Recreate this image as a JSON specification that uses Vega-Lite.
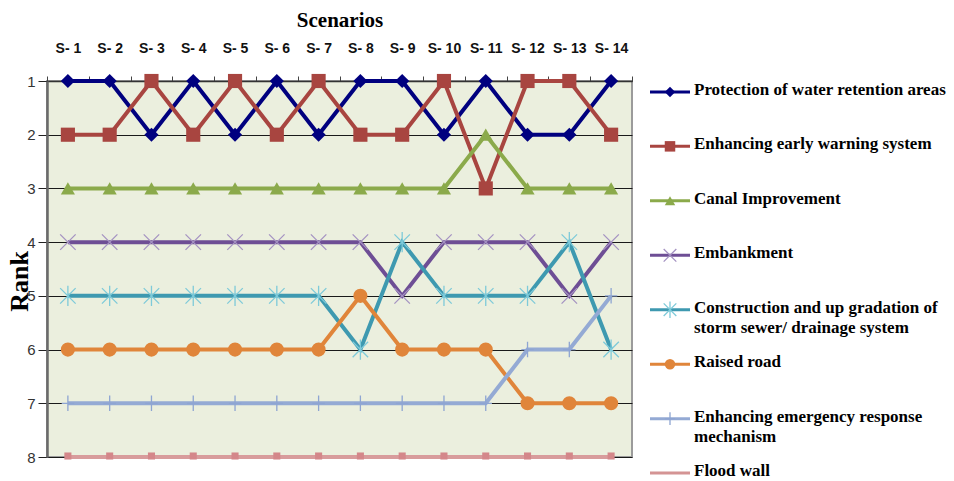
{
  "$schema": "https://vega.github.io/schema/vega-lite/v6.json",
  "background": "white",
  "padding": {"left": 5, "top": 8, "right": 0, "bottom": 0},
  "spacing": 14,
  "config": {"view": {"stroke": null}},
  "datasets": {
    "ranks": [
      {"scenario": "S- 1", "measure": "Protection of water retention areas", "rank": 1},
      {"scenario": "S- 2", "measure": "Protection of water retention areas", "rank": 1},
      {"scenario": "S- 3", "measure": "Protection of water retention areas", "rank": 2},
      {"scenario": "S- 4", "measure": "Protection of water retention areas", "rank": 1},
      {"scenario": "S- 5", "measure": "Protection of water retention areas", "rank": 2},
      {"scenario": "S- 6", "measure": "Protection of water retention areas", "rank": 1},
      {"scenario": "S- 7", "measure": "Protection of water retention areas", "rank": 2},
      {"scenario": "S- 8", "measure": "Protection of water retention areas", "rank": 1},
      {"scenario": "S- 9", "measure": "Protection of water retention areas", "rank": 1},
      {"scenario": "S- 10", "measure": "Protection of water retention areas", "rank": 2},
      {"scenario": "S- 11", "measure": "Protection of water retention areas", "rank": 1},
      {"scenario": "S- 12", "measure": "Protection of water retention areas", "rank": 2},
      {"scenario": "S- 13", "measure": "Protection of water retention areas", "rank": 2},
      {"scenario": "S- 14", "measure": "Protection of water retention areas", "rank": 1},
      {"scenario": "S- 1", "measure": "Enhancing early warning system", "rank": 2},
      {"scenario": "S- 2", "measure": "Enhancing early warning system", "rank": 2},
      {"scenario": "S- 3", "measure": "Enhancing early warning system", "rank": 1},
      {"scenario": "S- 4", "measure": "Enhancing early warning system", "rank": 2},
      {"scenario": "S- 5", "measure": "Enhancing early warning system", "rank": 1},
      {"scenario": "S- 6", "measure": "Enhancing early warning system", "rank": 2},
      {"scenario": "S- 7", "measure": "Enhancing early warning system", "rank": 1},
      {"scenario": "S- 8", "measure": "Enhancing early warning system", "rank": 2},
      {"scenario": "S- 9", "measure": "Enhancing early warning system", "rank": 2},
      {"scenario": "S- 10", "measure": "Enhancing early warning system", "rank": 1},
      {"scenario": "S- 11", "measure": "Enhancing early warning system", "rank": 3},
      {"scenario": "S- 12", "measure": "Enhancing early warning system", "rank": 1},
      {"scenario": "S- 13", "measure": "Enhancing early warning system", "rank": 1},
      {"scenario": "S- 14", "measure": "Enhancing early warning system", "rank": 2},
      {"scenario": "S- 1", "measure": "Canal Improvement", "rank": 3},
      {"scenario": "S- 2", "measure": "Canal Improvement", "rank": 3},
      {"scenario": "S- 3", "measure": "Canal Improvement", "rank": 3},
      {"scenario": "S- 4", "measure": "Canal Improvement", "rank": 3},
      {"scenario": "S- 5", "measure": "Canal Improvement", "rank": 3},
      {"scenario": "S- 6", "measure": "Canal Improvement", "rank": 3},
      {"scenario": "S- 7", "measure": "Canal Improvement", "rank": 3},
      {"scenario": "S- 8", "measure": "Canal Improvement", "rank": 3},
      {"scenario": "S- 9", "measure": "Canal Improvement", "rank": 3},
      {"scenario": "S- 10", "measure": "Canal Improvement", "rank": 3},
      {"scenario": "S- 11", "measure": "Canal Improvement", "rank": 2},
      {"scenario": "S- 12", "measure": "Canal Improvement", "rank": 3},
      {"scenario": "S- 13", "measure": "Canal Improvement", "rank": 3},
      {"scenario": "S- 14", "measure": "Canal Improvement", "rank": 3},
      {"scenario": "S- 1", "measure": "Embankment", "rank": 4},
      {"scenario": "S- 2", "measure": "Embankment", "rank": 4},
      {"scenario": "S- 3", "measure": "Embankment", "rank": 4},
      {"scenario": "S- 4", "measure": "Embankment", "rank": 4},
      {"scenario": "S- 5", "measure": "Embankment", "rank": 4},
      {"scenario": "S- 6", "measure": "Embankment", "rank": 4},
      {"scenario": "S- 7", "measure": "Embankment", "rank": 4},
      {"scenario": "S- 8", "measure": "Embankment", "rank": 4},
      {"scenario": "S- 9", "measure": "Embankment", "rank": 5},
      {"scenario": "S- 10", "measure": "Embankment", "rank": 4},
      {"scenario": "S- 11", "measure": "Embankment", "rank": 4},
      {"scenario": "S- 12", "measure": "Embankment", "rank": 4},
      {"scenario": "S- 13", "measure": "Embankment", "rank": 5},
      {"scenario": "S- 14", "measure": "Embankment", "rank": 4},
      {"scenario": "S- 1", "measure": "Construction and up gradation of storm sewer/ drainage system", "rank": 5},
      {"scenario": "S- 2", "measure": "Construction and up gradation of storm sewer/ drainage system", "rank": 5},
      {"scenario": "S- 3", "measure": "Construction and up gradation of storm sewer/ drainage system", "rank": 5},
      {"scenario": "S- 4", "measure": "Construction and up gradation of storm sewer/ drainage system", "rank": 5},
      {"scenario": "S- 5", "measure": "Construction and up gradation of storm sewer/ drainage system", "rank": 5},
      {"scenario": "S- 6", "measure": "Construction and up gradation of storm sewer/ drainage system", "rank": 5},
      {"scenario": "S- 7", "measure": "Construction and up gradation of storm sewer/ drainage system", "rank": 5},
      {"scenario": "S- 8", "measure": "Construction and up gradation of storm sewer/ drainage system", "rank": 6},
      {"scenario": "S- 9", "measure": "Construction and up gradation of storm sewer/ drainage system", "rank": 4},
      {"scenario": "S- 10", "measure": "Construction and up gradation of storm sewer/ drainage system", "rank": 5},
      {"scenario": "S- 11", "measure": "Construction and up gradation of storm sewer/ drainage system", "rank": 5},
      {"scenario": "S- 12", "measure": "Construction and up gradation of storm sewer/ drainage system", "rank": 5},
      {"scenario": "S- 13", "measure": "Construction and up gradation of storm sewer/ drainage system", "rank": 4},
      {"scenario": "S- 14", "measure": "Construction and up gradation of storm sewer/ drainage system", "rank": 6},
      {"scenario": "S- 1", "measure": "Raised road", "rank": 6},
      {"scenario": "S- 2", "measure": "Raised road", "rank": 6},
      {"scenario": "S- 3", "measure": "Raised road", "rank": 6},
      {"scenario": "S- 4", "measure": "Raised road", "rank": 6},
      {"scenario": "S- 5", "measure": "Raised road", "rank": 6},
      {"scenario": "S- 6", "measure": "Raised road", "rank": 6},
      {"scenario": "S- 7", "measure": "Raised road", "rank": 6},
      {"scenario": "S- 8", "measure": "Raised road", "rank": 5},
      {"scenario": "S- 9", "measure": "Raised road", "rank": 6},
      {"scenario": "S- 10", "measure": "Raised road", "rank": 6},
      {"scenario": "S- 11", "measure": "Raised road", "rank": 6},
      {"scenario": "S- 12", "measure": "Raised road", "rank": 7},
      {"scenario": "S- 13", "measure": "Raised road", "rank": 7},
      {"scenario": "S- 14", "measure": "Raised road", "rank": 7},
      {"scenario": "S- 1", "measure": "Enhancing emergency response mechanism", "rank": 7},
      {"scenario": "S- 2", "measure": "Enhancing emergency response mechanism", "rank": 7},
      {"scenario": "S- 3", "measure": "Enhancing emergency response mechanism", "rank": 7},
      {"scenario": "S- 4", "measure": "Enhancing emergency response mechanism", "rank": 7},
      {"scenario": "S- 5", "measure": "Enhancing emergency response mechanism", "rank": 7},
      {"scenario": "S- 6", "measure": "Enhancing emergency response mechanism", "rank": 7},
      {"scenario": "S- 7", "measure": "Enhancing emergency response mechanism", "rank": 7},
      {"scenario": "S- 8", "measure": "Enhancing emergency response mechanism", "rank": 7},
      {"scenario": "S- 9", "measure": "Enhancing emergency response mechanism", "rank": 7},
      {"scenario": "S- 10", "measure": "Enhancing emergency response mechanism", "rank": 7},
      {"scenario": "S- 11", "measure": "Enhancing emergency response mechanism", "rank": 7},
      {"scenario": "S- 12", "measure": "Enhancing emergency response mechanism", "rank": 6},
      {"scenario": "S- 13", "measure": "Enhancing emergency response mechanism", "rank": 6},
      {"scenario": "S- 14", "measure": "Enhancing emergency response mechanism", "rank": 5},
      {"scenario": "S- 1", "measure": "Flood wall", "rank": 8},
      {"scenario": "S- 2", "measure": "Flood wall", "rank": 8},
      {"scenario": "S- 3", "measure": "Flood wall", "rank": 8},
      {"scenario": "S- 4", "measure": "Flood wall", "rank": 8},
      {"scenario": "S- 5", "measure": "Flood wall", "rank": 8},
      {"scenario": "S- 6", "measure": "Flood wall", "rank": 8},
      {"scenario": "S- 7", "measure": "Flood wall", "rank": 8},
      {"scenario": "S- 8", "measure": "Flood wall", "rank": 8},
      {"scenario": "S- 9", "measure": "Flood wall", "rank": 8},
      {"scenario": "S- 10", "measure": "Flood wall", "rank": 8},
      {"scenario": "S- 11", "measure": "Flood wall", "rank": 8},
      {"scenario": "S- 12", "measure": "Flood wall", "rank": 8},
      {"scenario": "S- 13", "measure": "Flood wall", "rank": 8},
      {"scenario": "S- 14", "measure": "Flood wall", "rank": 8}
    ],
    "legend": [
      {"measure": "Protection of water retention areas", "label": "Protection of water retention areas"},
      {"measure": "Enhancing early warning system", "label": "Enhancing early warning system"},
      {"measure": "Canal Improvement", "label": "Canal Improvement"},
      {"measure": "Embankment", "label": "Embankment"},
      {"measure": "Construction and up gradation of storm sewer/ drainage system", "label": "Construction and up gradation of\nstorm sewer/ drainage system"},
      {"measure": "Raised road", "label": "Raised road"},
      {"measure": "Enhancing emergency response mechanism", "label": "Enhancing emergency response\nmechanism"},
      {"measure": "Flood wall", "label": "Flood wall"}
    ]
  },
  "resolve": {"scale": {"x": "independent", "y": "independent", "color": "independent", "shape": "independent", "stroke": "independent"}},
  "hconcat": [
    {
      "width": 585,
      "height": 376,
      "view": {"fill": "#EBEFDE", "stroke": "#9b9b9b", "strokeWidth": 2},
      "data": {"name": "ranks"},
      "encoding": {
        "x": {
          "field": "scenario", "type": "nominal", "bandPosition": 0.5,
          "scale": {"type": "band", "paddingInner": 0, "paddingOuter": 0,
            "domain": ["S- 1","S- 2","S- 3","S- 4","S- 5","S- 6","S- 7","S- 8","S- 9","S- 10","S- 11","S- 12","S- 13","S- 14"]},
          "axis": {
            "orient": "top", "title": "Scenarios", "labelAngle": 0, "tickBand": "extent",
            "titleFont": "Liberation Serif", "titleFontWeight": "bold", "titleFontSize": 21, "titleColor": "#000",
            "labelFont": "Liberation Sans", "labelFontWeight": "bold", "labelFontSize": 14, "labelColor": "#111",
            "tickSize": 5, "tickColor": "#444", "domainColor": "#333", "domainWidth": 1.5,
            "labelPadding": 21, "titlePadding": 11
          }
        },
        "y": {
          "field": "rank", "type": "quantitative",
          "scale": {"domain": [1, 8], "reverse": true, "nice": false, "zero": false},
          "axis": {
            "values": [1,2,3,4,5,6,7,8], "grid": true, "gridColor": "#1a1a1a", "gridWidth": 1,
            "domainColor": "#6a6a6a", "domainWidth": 2.5, "tickColor": "#222", "tickSize": 9,
            "labelFont": "Liberation Sans", "labelFontSize": 15, "labelColor": "#333", "labelPadding": 3,
            "title": "Rank", "titleFont": "Liberation Serif", "titleFontWeight": "bold", "titleFontSize": 26,
            "titleColor": "#000", "titlePadding": -6, "titleY": 200, "titleAlign": "center"
          }
        }
      },
      "layer": [
        {
          "mark": {"type": "line", "strokeWidth": 4},
          "encoding": {
            "color": {
              "field": "measure", "type": "nominal", "legend": null,
              "scale": {
                "domain": ["Protection of water retention areas","Enhancing early warning system","Canal Improvement","Embankment","Construction and up gradation of storm sewer/ drainage system","Raised road","Enhancing emergency response mechanism","Flood wall"],
                "range": ["#00007F","#A84540","#8BAA4B","#6E4E95","#3E99B0","#E0853A","#94AAD4","#D89C9C"]
              }
            }
          }
        },
        {
          "transform": [{"filter": {"field": "measure", "oneOf": ["Protection of water retention areas","Enhancing early warning system","Canal Improvement","Raised road"]}}],
          "mark": {"type": "point", "filled": true, "opacity": 1, "size": 200},
          "encoding": {
            "color": {"field": "measure", "type": "nominal", "legend": null},
            "shape": {
              "field": "measure", "type": "nominal", "legend": null,
              "scale": {
                "domain": ["Protection of water retention areas","Enhancing early warning system","Canal Improvement","Embankment","Construction and up gradation of storm sewer/ drainage system","Raised road","Enhancing emergency response mechanism","Flood wall"],
                "range": ["diamond","square","triangle-up","M-1,-1L1,1M-1,1L1,-1","M-1,-1L1,1M-1,1L1,-1M0,-1.3L0,1.3","circle","M0,-1L0,1M-0.8,0L0.8,0","square"]
              }
            }
          }
        },
        {
          "transform": [{"filter": {"field": "measure", "equal": "Flood wall"}}],
          "mark": {"type": "square", "filled": true, "opacity": 1, "size": 50, "color": "#D4878A", "yOffset": -1},
          "encoding": {}
        },
        {
          "transform": [{"filter": {"field": "measure", "oneOf": ["Embankment","Construction and up gradation of storm sewer/ drainage system","Enhancing emergency response mechanism"]}}],
          "mark": {"type": "point", "filled": false, "opacity": 1, "strokeWidth": 1.3, "size": 240},
          "encoding": {
            "shape": {"field": "measure", "type": "nominal", "legend": null},
            "stroke": {
              "field": "measure", "type": "nominal", "legend": null,
              "scale": {
                "domain": ["Embankment","Construction and up gradation of storm sewer/ drainage system","Enhancing emergency response mechanism"],
                "range": ["#A593C2","#7ECAD9","#8EA5D2"]
              }
            }
          }
        }
      ]
    },
    {
      "width": 300,
      "height": 403,
      "view": {"stroke": null, "fill": null},
      "data": {"name": "legend"},
      "encoding": {
        "y": {
          "field": "measure", "type": "nominal", "axis": null,
          "scale": {"type": "point", "padding": 0.2,
            "domain": ["Protection of water retention areas","Enhancing early warning system","Canal Improvement","Embankment","Construction and up gradation of storm sewer/ drainage system","Raised road","Enhancing emergency response mechanism","Flood wall"]}
        }
      },
      "layer": [
        {
          "mark": {"type": "rule", "strokeWidth": 3},
          "encoding": {
            "x": {"datum": 2, "type": "quantitative", "axis": null, "scale": {"domain": [0, 300], "nice": false, "zero": false}},
            "x2": {"datum": 42},
            "color": {
              "field": "measure", "type": "nominal", "legend": null,
              "scale": {
                "domain": ["Protection of water retention areas","Enhancing early warning system","Canal Improvement","Embankment","Construction and up gradation of storm sewer/ drainage system","Raised road","Enhancing emergency response mechanism","Flood wall"],
                "range": ["#00007F","#A84540","#8BAA4B","#6E4E95","#3E99B0","#E0853A","#94AAD4","#D49494"]
              }
            }
          }
        },
        {
          "transform": [{"filter": {"field": "measure", "oneOf": ["Protection of water retention areas","Enhancing early warning system","Canal Improvement","Raised road"]}}],
          "mark": {"type": "point", "filled": true, "opacity": 1, "size": 110},
          "encoding": {
            "x": {"datum": 22, "type": "quantitative"},
            "color": {"field": "measure", "type": "nominal", "legend": null},
            "shape": {
              "field": "measure", "type": "nominal", "legend": null,
              "scale": {
                "domain": ["Protection of water retention areas","Enhancing early warning system","Canal Improvement","Embankment","Construction and up gradation of storm sewer/ drainage system","Raised road","Enhancing emergency response mechanism","Flood wall"],
                "range": ["diamond","square","triangle-up","M-1,-1L1,1M-1,1L1,-1","M-1,-1L1,1M-1,1L1,-1M0,-1.3L0,1.3","circle","M0,-1L0,1M-0.8,0L0.8,0","square"]
              }
            }
          }
        },
        {
          "transform": [{"filter": {"field": "measure", "oneOf": ["Embankment","Construction and up gradation of storm sewer/ drainage system","Enhancing emergency response mechanism"]}}],
          "mark": {"type": "point", "filled": false, "opacity": 1, "strokeWidth": 1.3, "size": 160},
          "encoding": {
            "x": {"datum": 22, "type": "quantitative"},
            "shape": {"field": "measure", "type": "nominal", "legend": null},
            "stroke": {
              "field": "measure", "type": "nominal", "legend": null,
              "scale": {
                "domain": ["Embankment","Construction and up gradation of storm sewer/ drainage system","Enhancing emergency response mechanism"],
                "range": ["#A593C2","#7ECAD9","#8EA5D2"]
              }
            }
          }
        },
        {
          "mark": {"type": "text", "align": "left", "baseline": "top", "dy": -10, "lineBreak": "\n", "lineHeight": 20,
            "font": "Liberation Serif", "fontWeight": "bold", "fontSize": 17, "color": "#000"},
          "encoding": {
            "x": {"datum": 46, "type": "quantitative"},
            "text": {"field": "label", "type": "nominal"}
          }
        }
      ]
    }
  ]
}
